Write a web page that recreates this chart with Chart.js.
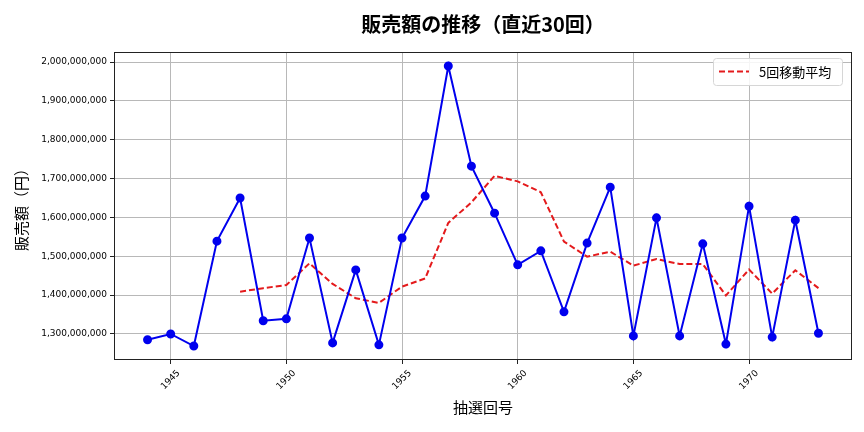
<!DOCTYPE html>
<html>
<head>
<meta charset="utf-8">
<script src="https://cdn.jsdelivr.net/npm/chart.js@4.4.1/dist/chart.umd.min.js"></script>
<style>
    body { margin: 0; background: #fff; }
    #wrap { width: 864px; height: 432px; }
</style>
</head>
<body>
<div id="wrap"><canvas id="grafico"></canvas></div>
<script>
// 抽選回号
const rounds = [1944, 1945, 1946, 1947, 1948, 1949, 1950, 1951, 1952, 1953,
    1954, 1955, 1956, 1957, 1958, 1959, 1960, 1961, 1962, 1963,
    1964, 1965, 1966, 1967, 1968, 1969, 1970, 1971, 1972, 1973];

// 販売額（円）
const sales = [1285000000, 1300000000, 1269000000, 1539000000, 1650000000, 1334000000, 1339000000, 1547000000, 1277000000, 1465000000,
    1272000000, 1547000000, 1655000000, 1990000000, 1732000000, 1611000000, 1478000000, 1514000000, 1357000000, 1534000000,
    1678000000, 1295000000, 1599000000, 1295000000, 1532000000, 1274000000, 1629000000, 1292000000, 1593000000, 1302000000];

// 5回移動平均 (1948回から)
const maRounds = [1948, 1949, 1950, 1951, 1952, 1953, 1954, 1955, 1956, 1957,
    1958, 1959, 1960, 1961, 1962, 1963, 1964, 1965, 1966, 1967,
    1968, 1969, 1970, 1971, 1972, 1973];
const movingAvg = [1409000000, 1418000000, 1426000000, 1482000000, 1429000000, 1392000000, 1380000000, 1422000000, 1443000000, 1586000000,
    1639000000, 1707000000, 1693000000, 1665000000, 1538000000, 1499000000, 1512000000, 1476000000, 1493000000, 1480000000,
    1480000000, 1399000000, 1466000000, 1404000000, 1464000000, 1418000000];

const xTicks = [1945, 1950, 1955, 1960, 1965, 1970];
const yTicks = [1300000000, 1400000000, 1500000000, 1600000000, 1700000000, 1800000000, 1900000000, 2000000000];

const legendLabel = '5回移動平均';

Chart.defaults.font.family = "'Noto Sans CJK JP', 'Noto Sans', sans-serif";
Chart.defaults.color = '#000';

// 枠線
const framePlugin = {
    id: 'frame',
    afterDraw(chart) {
        const { ctx, chartArea } = chart;
        ctx.save();
        ctx.strokeStyle = '#222';
        ctx.lineWidth = 1;
        ctx.strokeRect(chartArea.left + 0.5, chartArea.top + 0.5,
            chartArea.right - chartArea.left - 1, chartArea.bottom - chartArea.top - 1);
        ctx.restore();
    }
};

// 凡例 (グラフ内右上)
const legendPlugin = {
    id: 'legendBox',
    afterDatasetsDraw(chart) {
        const { ctx, chartArea } = chart;
        const w = 129, h = 27;
        const x = chartArea.right - 10 - w;
        const y = chartArea.top + 6;
        ctx.save();
        ctx.fillStyle = 'rgba(255,255,255,0.85)';
        ctx.strokeStyle = '#d6d6d6';
        ctx.lineWidth = 1;
        ctx.beginPath();
        ctx.roundRect(x + 0.5, y + 0.5, w, h, 3);
        ctx.fill();
        ctx.stroke();

        ctx.strokeStyle = '#e41a1c';
        ctx.lineWidth = 2;
        ctx.setLineDash([6, 3]);
        ctx.beginPath();
        ctx.moveTo(x + 6, y + 13.5);
        ctx.lineTo(x + 36, y + 13.5);
        ctx.stroke();
        ctx.setLineDash([]);

        ctx.fillStyle = '#000';
        ctx.font = "13px 'Noto Sans CJK JP'";
        ctx.textBaseline = 'middle';
        ctx.fillText(legendLabel, x + 46, y + 14);
        ctx.restore();
    }
};

const ctx = document.getElementById('grafico').getContext('2d');
new Chart(ctx, {
    type: 'line',
    data: {
        datasets: [
            {
                label: '販売額',
                data: rounds.map((r, i) => ({ x: r, y: sales[i] })),
                borderColor: '#0000ee',
                backgroundColor: '#0000ee',
                borderWidth: 2,
                pointRadius: 3.5,
                pointHoverRadius: 3.5,
                tension: 0
            },
            {
                label: legendLabel,
                data: maRounds.map((r, i) => ({ x: r, y: movingAvg[i] })),
                borderColor: '#e41a1c',
                borderWidth: 2,
                borderDash: [6, 3],
                pointRadius: 0,
                tension: 0
            }
        ]
    },
    options: {
        responsive: true,
        maintainAspectRatio: false,
        animation: false,
        layout: { padding: { left: 0, right: 12, top: 0, bottom: 0 } },
        plugins: {
            legend: { display: false },
            tooltip: { enabled: false },
            title: {
                display: true,
                text: '販売額の推移（直近30回）',
                fullSize: false,
                font: { size: 20, weight: 'bold' },
                color: '#000',
                padding: { top: 12, bottom: 16 }
            }
        },
        scales: {
            x: {
                type: 'linear',
                min: 1942.55,
                max: 1974.45,
                afterBuildTicks: (scale) => { scale.ticks = xTicks.map(v => ({ value: v })); },
                afterFit: (scale) => { scale.height = 72; },
                ticks: {
                    minRotation: 45,
                    maxRotation: 45,
                    font: { family: "'DejaVu Sans'", size: 9 },
                    padding: 4,
                    labelOffset: 8,
                    callback: (v) => String(v)
                },
                grid: { color: '#b8b8b8', tickColor: '#222', tickLength: 4 },
                border: { display: false },
                title: { display: true, text: '抽選回号', font: { size: 15 }, padding: { top: 2, bottom: 16 } }
            },
            y: {
                min: 1233000000,
                max: 2026000000,
                afterBuildTicks: (scale) => { scale.ticks = yTicks.map(v => ({ value: v })); },
                afterFit: (scale) => { scale.width = 114; },
                ticks: {
                    font: { family: "'DejaVu Sans'", size: 9 },
                    padding: 3,
                    callback: (v) => v.toLocaleString('en-US')
                },
                grid: { color: '#b8b8b8', tickColor: '#222', tickLength: 4 },
                border: { display: false },
                title: { display: true, text: '販売額（円）', font: { size: 15 }, padding: { top: 12, bottom: 0 } }
            }
        }
    },
    plugins: [framePlugin, legendPlugin]
});
</script>
</body>
</html>
